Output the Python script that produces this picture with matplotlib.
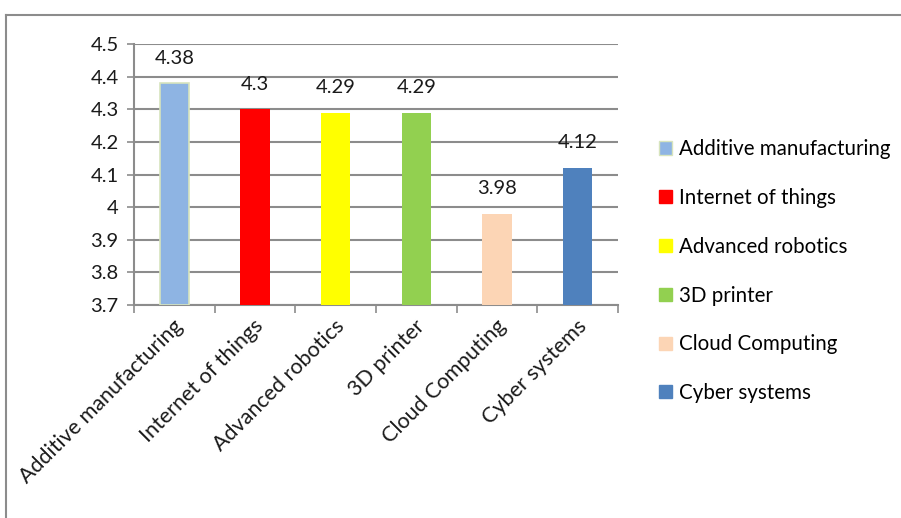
import matplotlib
matplotlib.use("Agg")
import matplotlib.pyplot as plt
from matplotlib.patches import Patch
from matplotlib.lines import Line2D

categories = ["Additive manufacturing", "Internet of things", "Advanced robotics",
              "3D printer", "Cloud Computing", "Cyber systems"]
scores = [4.38, 4.3, 4.29, 4.29, 3.98, 4.12]
colors = ["#8EB4E3", "#FF0000", "#FFFF00", "#92D050", "#FCD5B5", "#4F81BD"]
y_ticks = [3.7, 3.8, 3.9, 4.0, 4.1, 4.2, 4.3, 4.4, 4.5]

plt.rcParams["font.family"] = ["Lato", "DejaVu Sans"]
grid_col = "#8C8C8C"
txt_col = "#1A1A1A"

fig = plt.figure(figsize=(9.01, 5.18), dpi=100)
ax = fig.add_axes([134 / 901, 1 - 305 / 518, 484 / 901, 261 / 518])

# outer chart frame (only top and left edges are visible)
fig.add_artist(Line2D([6 / 901, 6 / 901], [0, 1 - 15 / 518], transform=fig.transFigure,
                      color=grid_col, lw=1.5))
fig.add_artist(Line2D([6 / 901, 1], [1 - 15 / 518, 1 - 15 / 518], transform=fig.transFigure,
                      color=grid_col, lw=1.5))

x = list(range(len(categories)))
bars = ax.bar(x, [s - 3.7 for s in scores], bottom=3.7, width=0.36, color=colors,
              zorder=3)
bars[0].set_edgecolor("#D7E4BD")
bars[0].set_linewidth(1.2)

for xi, s in zip(x, scores):
    ax.annotate(f"{s:g}", (xi, s), xytext=(0, 18), textcoords="offset points",
                ha="center", va="center", fontsize=14.5, color=txt_col)

ax.set_xlim(-0.5, len(categories) - 0.5)
ax.set_ylim(3.7, 4.5)
ax.set_yticks(y_ticks)
ax.set_yticklabels([f"{v:g}" for v in y_ticks], fontsize=14.5, color=txt_col)
ax.yaxis.grid(True, color=grid_col, lw=1.5, zorder=0)
ax.tick_params(axis="y", length=5, width=1.2, color=grid_col, pad=6)

# category ticks sit between bars, labels under bar centres
ax.set_xticks([i - 0.5 for i in range(len(categories) + 1)])
ax.set_xticklabels([])
ax.tick_params(axis="x", length=6, width=1.2, color=grid_col)
for xi, name in zip(x, categories):
    ax.annotate(name, (xi, 3.7), xytext=(4, -13), textcoords="offset points",
                rotation=45, rotation_mode="anchor", ha="right", va="center",
                fontsize=15.5, color=txt_col, annotation_clip=False)

for side in ["top", "right"]:
    ax.spines[side].set_visible(False)
for side in ["left", "bottom"]:
    ax.spines[side].set_color(grid_col)
    ax.spines[side].set_linewidth(1.5)

handles = [Patch(facecolor=c, edgecolor=c) for c in colors]
handles[0].set_edgecolor("#D7E4BD")
fig.legend(handles, categories, loc="upper left",
           bbox_to_anchor=(651 / 901, 1 - 131 / 518), frameon=False,
           fontsize=14.8, handlelength=0.6, handleheight=0.6, handletextpad=0.35,
           labelspacing=1.4, borderaxespad=0)

fig.savefig("out.png", dpi=100)
